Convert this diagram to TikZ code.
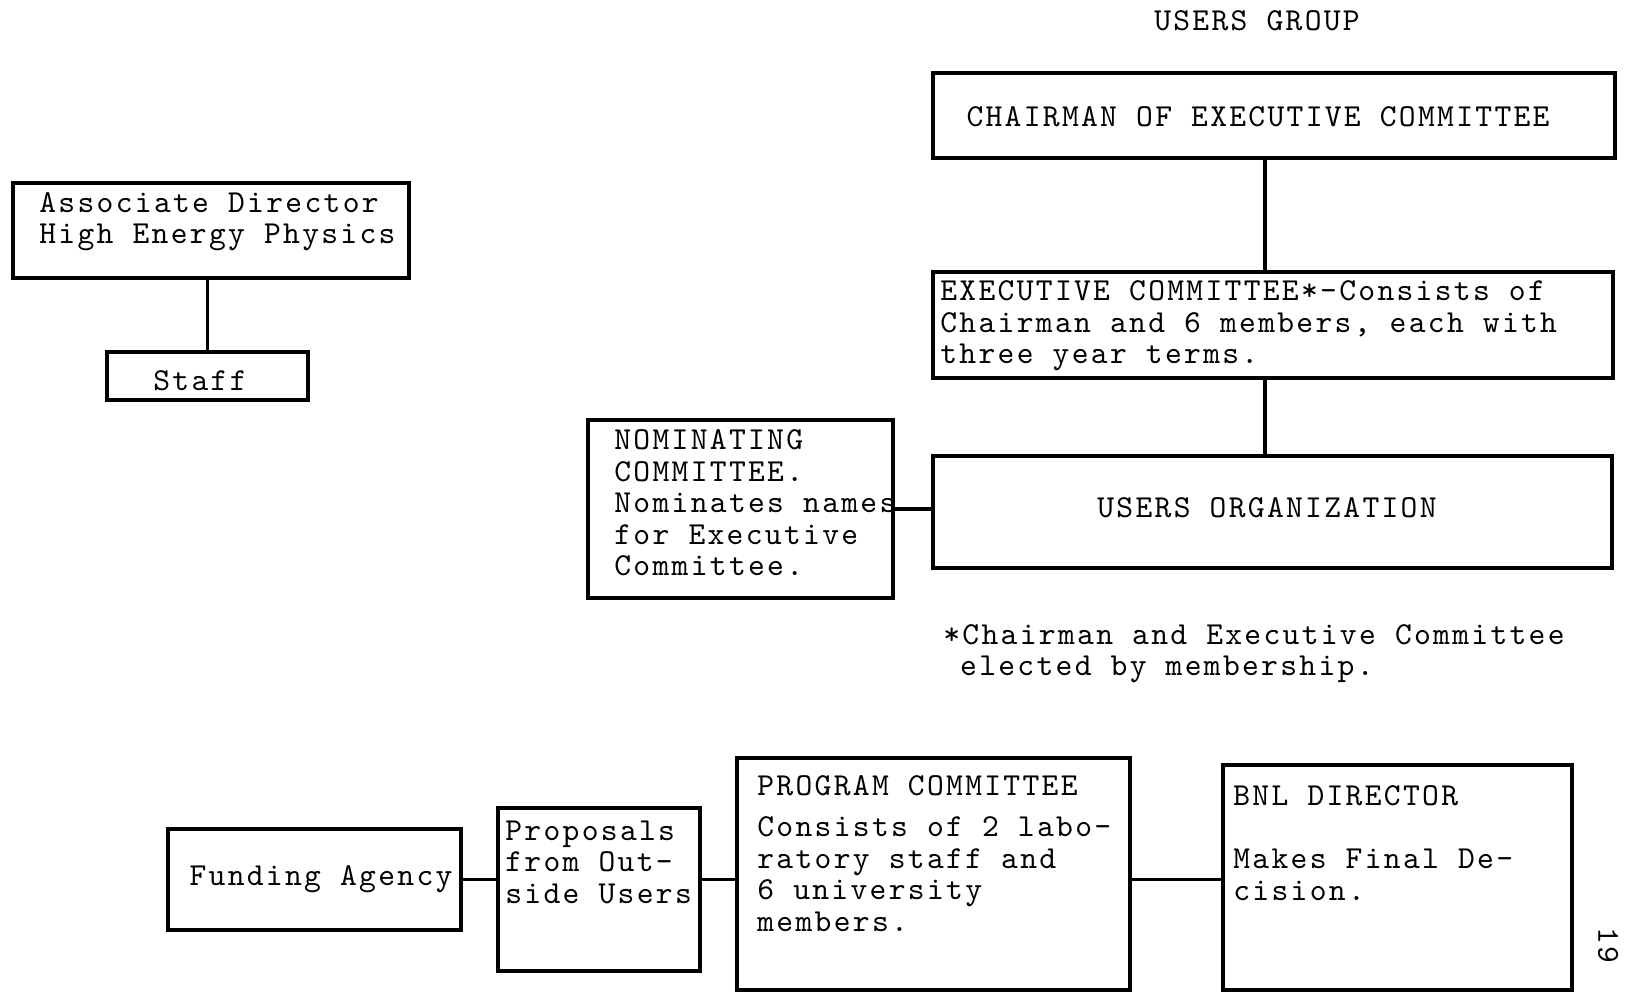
\documentclass[tikz,border=0pt]{standalone}
\usepackage{fontspec}
\setmonofont{lmmono10-regular.otf}[LetterSpace=7.2]
\usepackage{tikz}
\usetikzlibrary{                          % TikZ libraries
                calc,                     % .
                positioning}

\begin{document}
\begin{tikzpicture}[x=0.5pt,y=-0.5pt
                    ]
                % define styles
\tikzset{box/.style={rectangle,
                       draw=black,
                       line width=1.9pt,
                       inner sep=0,
                       },
         txt/.style={font=\ttfamily\fontsize{16}{15.75}\selectfont,
                       inner sep=0,
                       align=left,
                       },
         wire/.style={draw=black,
                       line width=1.7pt,
                       }
}

% page
\fill[white] (0,0) rectangle (1625,994);

% nodes
\node[box, minimum width=198pt,   minimum height=47.5pt]  (hep)   at  (211,230.5)    {};
\node[box, minimum width=100.5pt, minimum height=24pt]    (staff) at  (207.5,376)    {};
\node[box, minimum width=341pt,   minimum height=42.5pt]  (chair) at  (1274,115.5)   {};
\node[box, minimum width=340pt,   minimum height=53pt]    (exec)  at  (1273,325)     {};
\node[box, minimum width=339.5pt, minimum height=56pt]    (users) at  (1272.5,512)   {};
\node[box, minimum width=152.5pt, minimum height=89pt]    (nom)   at  (740.5,509)    {};
\node[box, minimum width=146.5pt, minimum height=50.5pt]  (fund)  at  (314.5,879.5)  {};
\node[box, minimum width=101pt,   minimum height=81.5pt]  (prop)  at  (599,889.5)    {};
\node[box, minimum width=196.5pt, minimum height=116pt]   (prog)  at  (933.5,874)    {};
\node[box, minimum width=174.5pt, minimum height=112.5pt] (bnl)   at  (1397.5,877.5) {};

\coordinate (spine) at (1265,0);

% labels
\node[txt, anchor=west] (hep-t)   at (39,221.5)  {Associate Director\\High Energy Physics};
\node[txt]              (staff-t) at (200,381)   {Staff};
\node[txt]              (title)   at (1257,21)   {USERS GROUP};
\node[txt]              (chair-t) at (1258,117)  {CHAIRMAN OF EXECUTIVE COMMITTEE};
\node[txt, anchor=west] (exec-t)  at (940,326)   {EXECUTIVE COMMITTEE*-Consists of\\Chairman and 6 members, each with\\three year terms.};
\node[txt]              (users-t) at (1267,508)  {USERS ORGANIZATION};
\node[txt, anchor=west] (nom-t)   at (614,503)   {NOMINATING\\COMMITTEE.\\Nominates names\\for Executive\\Committee.};
\node[txt, anchor=west] (note)    at (943,653.5) {*Chairman and Executive Committee\\\hphantom{*}elected by membership.};
\node[txt]              (fund-t)  at (321,879)   {Funding Agency};
\node[txt, anchor=west] (prop-t)  at (505,862)   {Proposals\\from Out-\\side Users};
\node[txt, anchor=west] (prog-t)  at (757,853.5) {PROGRAM COMMITTEE\\[5pt]Consists of 2 labo-\\ratory staff and\\6 university\\members.};
\node[txt, anchor=west] (bnl-t)   at (1233,843)  {BNL DIRECTOR\\[15.75pt]Makes Final De-\\cision.};
\node[txt, rotate=-90]  (page)    at (1608,945)  {19};

% connections
\draw[wire] (hep.south -| staff.north) -- (staff.north);
\draw[wire] (chair.south -| spine) -- (exec.north -| spine);
\draw[wire] (exec.south -| spine) -- (users.north -| spine);
\draw[wire] (nom.east) -- (nom.east -| users.west);
\draw[wire] (fund.east) -- (fund.east -| prop.west);
\draw[wire] (fund.east -| prop.east) -- (fund.east -| prog.west);
\draw[wire] (fund.east -| prog.east) -- (fund.east -| bnl.west);

\end{tikzpicture}
\end{document}
